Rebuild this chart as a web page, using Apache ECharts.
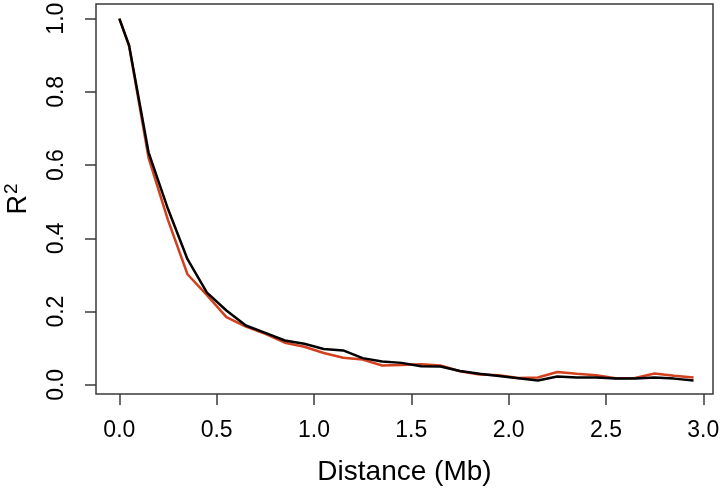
<!DOCTYPE html>
<html>
<head>
<meta charset="utf-8">
<script src="https://cdn.jsdelivr.net/npm/echarts@6/dist/echarts.min.js"></script>
<style>html,body{margin:0;padding:0;background:#fff}#c{width:722px;height:491px}</style>
</head>
<body>
<div id="c"></div>
<script>
var distance = [0.0, 0.05, 0.15, 0.25, 0.35, 0.45, 0.55, 0.65, 0.75, 0.85, 0.95, 1.05, 1.15, 1.25, 1.35, 1.45, 1.55, 1.65, 1.75, 1.85, 1.95, 2.05, 2.15, 2.25, 2.35, 2.45, 2.55, 2.65, 2.75, 2.85, 2.95];
var redR2 = [1.0, 0.925, 0.62, 0.45, 0.302, 0.245, 0.185, 0.159, 0.139, 0.115, 0.104, 0.087, 0.074, 0.069, 0.053, 0.054, 0.056, 0.053, 0.037, 0.028, 0.026, 0.019, 0.020, 0.035, 0.030, 0.026, 0.018, 0.019, 0.031, 0.025, 0.020];
var blackR2 = [1.0, 0.927, 0.635, 0.48, 0.343, 0.252, 0.203, 0.162, 0.142, 0.121, 0.112, 0.098, 0.094, 0.073, 0.064, 0.060, 0.051, 0.050, 0.038, 0.030, 0.024, 0.018, 0.012, 0.023, 0.020, 0.020, 0.017, 0.017, 0.020, 0.017, 0.012];
var xTicks = [0.0, 0.5, 1.0, 1.5, 2.0, 2.5, 3.0];
var yTicks = [0.0, 0.2, 0.4, 0.6, 0.8, 1.0];

function pairs(xs, ys) { return xs.map(function (x, i) { return [x, ys[i]]; }); }

var chart = echarts.init(document.getElementById('c'), null, { renderer: 'canvas' });
var font = 'Liberation Sans, Arial, Helvetica, sans-serif';
chart.setOption({
  animation: false,
  backgroundColor: '#fff',
  grid: { left: 96, right: 9, top: 4, bottom: 97, containLabel: false, outerBoundsMode: 'none', show: true, borderColor: '#3a3a3a', borderWidth: 1.5, backgroundColor: 'transparent' },
  xAxis: {
    type: 'value', min: -0.12, max: 3.05,
    name: 'Distance (Mb)', nameLocation: 'middle', nameGap: 64,
    nameTextStyle: { fontFamily: font, fontSize: 28, color: '#000' },
    axisLine: { show: false, onZero: false },
    splitLine: { show: false },
    axisTick: { show: true, inside: false, length: 11, lineStyle: { color: '#3a3a3a', width: 1.5 }, customValues: xTicks },
    axisLabel: { margin: 25, fontFamily: font, fontSize: 23, color: '#000', customValues: xTicks, formatter: function (v) { return v.toFixed(1); } }
  },
  yAxis: {
    type: 'value', min: -0.025, max: 1.04,
    name: '{r|R}{s|2}', nameLocation: 'middle', nameGap: 61,
    nameTextStyle: { fontFamily: font, fontSize: 27, color: '#000',
      rich: { r: { fontFamily: font, fontSize: 27, color: '#000' }, s: { fontFamily: font, fontSize: 19, color: '#000', padding: [0, 0, 14, 1] } } },
    axisLine: { show: false, onZero: false },
    splitLine: { show: false },
    axisTick: { show: true, inside: false, length: 11, lineStyle: { color: '#3a3a3a', width: 1.5 }, customValues: yTicks },
    axisLabel: { rotate: 90, margin: 28, fontFamily: font, fontSize: 23, color: '#000', customValues: yTicks, formatter: function (v) { return v.toFixed(1); } }
  },
  series: [
    { type: 'line', data: pairs(distance, redR2), showSymbol: false, lineStyle: { color: '#d2401e', width: 2.5 }, itemStyle: { color: '#d2401e' } },
    { type: 'line', data: pairs(distance, blackR2), showSymbol: false, lineStyle: { color: '#000', width: 2.5 }, itemStyle: { color: '#000' } }
  ]
});
</script>
</body>
</html>
